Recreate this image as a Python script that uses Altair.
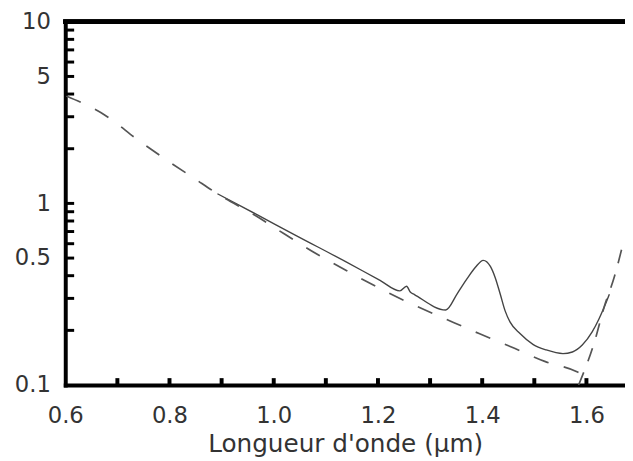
import altair as alt
import pandas as pd

# ---- data ----
fibre_x = [0.892, 0.967, 1.043, 1.138, 1.204, 1.242, 1.255, 1.262, 1.270, 1.330,
           1.3525, 1.371, 1.387, 1.402, 1.4157, 1.425, 1.4347, 1.444, 1.4536,
           1.4725, 1.498, 1.523, 1.555, 1.573, 1.592, 1.611, 1.624, 1.634, 1.644]
fibre_y = [1.13, 0.87, 0.665, 0.478, 0.377, 0.33, 0.35, 0.325, 0.315, 0.259,
           0.320, 0.385, 0.445, 0.486, 0.45, 0.39, 0.316, 0.256, 0.222,
           0.192, 0.167, 0.156, 0.149, 0.152, 0.166, 0.196, 0.231, 0.268, 0.316]

rayleigh_x = [0.602, 0.677, 0.740, 0.791, 0.848, 0.892, 0.964, 1.020, 1.081, 1.144,
              1.204, 1.257, 1.330, 1.394, 1.456, 1.520, 1.583, 1.600]
rayleigh_y = [3.9, 3.05, 2.23, 1.76, 1.37, 1.13, 0.86, 0.68, 0.53, 0.42,
              0.34, 0.286, 0.231, 0.192, 0.162, 0.135, 0.118, 0.111]

ir_x = [1.585, 1.616, 1.634, 1.654, 1.672]
ir_y = [0.10, 0.175, 0.269, 0.398, 0.63]

x_label_values = [0.6, 0.8, 1.0, 1.2, 1.4, 1.6]
y_label_values = [0.1, 0.5, 1, 5, 10]
x_tick_values = [0.7, 0.8, 0.9, 1.0, 1.1, 1.2, 1.3, 1.4, 1.5, 1.6]
y_tick_values = [0.2, 0.3, 0.4, 0.5, 0.6, 0.7, 0.8, 0.9, 1,
                 2, 3, 4, 5, 6, 7, 8, 9]

W, H = 567, 368
FONT = "DejaVu Sans"
TXT = "#333333"

xs = alt.Scale(domain=[0.6, 1.674], nice=False, zero=False)
ys = alt.Scale(type="log", domain=[0.1, 10], nice=False)

x_axis = alt.Axis(values=x_label_values, format=".1f", title="Longueur d'onde (µm)",
                  labelPadding=20, labelFlush=False, labelOverlap=False,
                  titlePadding=4, tickSize=0, ticks=False, grid=False)
y_axis = alt.Axis(values=y_label_values, format="~g", title=None,
                  labelPadding=15, labelOverlap=False, tickSize=0, ticks=False, grid=False)

fibre_df = pd.DataFrame({"x": fibre_x, "y": fibre_y})
ray_df = pd.DataFrame({"x": rayleigh_x, "y": rayleigh_y})
ir_df = pd.DataFrame({"x": ir_x, "y": ir_y})
xt_df = pd.DataFrame({"x": x_tick_values})
yt_df = pd.DataFrame({"y": y_tick_values})


def X():
    return alt.X("x:Q", scale=xs, axis=x_axis)


def Y():
    return alt.Y("y:Q", scale=ys, axis=y_axis)


fibre = alt.Chart(fibre_df).mark_line(
    color="#444444", strokeWidth=1.4, interpolate="monotone", clip=True
).encode(x=X(), y=Y())

rayleigh = alt.Chart(ray_df).mark_line(
    color="#555555", strokeWidth=1.7, strokeDash=[16, 16], interpolate="monotone", clip=True
).encode(x=X(), y=Y())

ir = alt.Chart(ir_df).mark_line(
    color="#555555", strokeWidth=1.7, strokeDash=[14, 12], interpolate="monotone", clip=True
).encode(x=X(), y=Y())

xticks = alt.Chart(xt_df).mark_rule(color="black", strokeWidth=4).encode(
    x=X(), y=alt.value(H), y2=alt.value(H - 7),
)

yticks = alt.Chart(yt_df).mark_rule(color="black", strokeWidth=3).encode(
    y=Y(), x=alt.value(0), x2=alt.value(9),
)

top = alt.Chart(xt_df).mark_rule(color="black", strokeWidth=4, strokeCap="square").encode(
    x=alt.value(0), x2=alt.value(W), y=alt.value(0)
)

chart = alt.layer(fibre, rayleigh, ir, xticks, yticks, top).properties(
    width=W, height=H,
    padding={"left": 58, "top": 11, "right": 0, "bottom": 74},
    autosize=alt.AutoSizeParams(type="none"),
).configure_view(stroke=None).configure_axis(
    domainColor="black", domainWidth=4, domainCap="square",
    labelFont=FONT, labelFontSize=23, labelColor=TXT,
    titleFont=FONT, titleFontSize=25, titleFontWeight="normal", titleColor=TXT,
)

chart.save("out.html", embed_options={"renderer": "svg", "actions": False})
